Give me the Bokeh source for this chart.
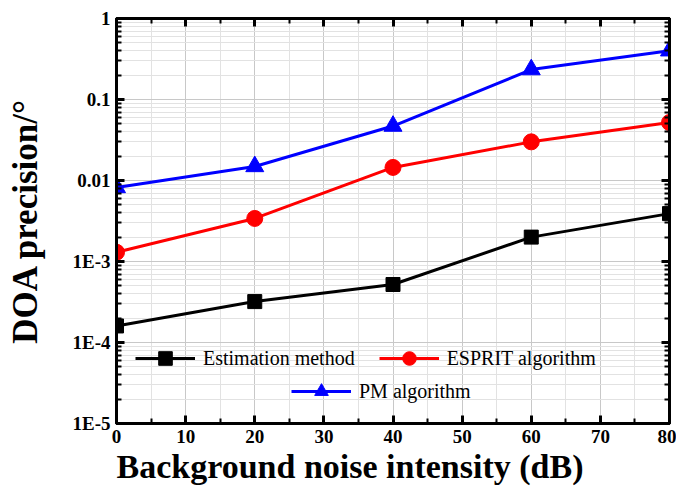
from bokeh.plotting import figure
from bokeh.models import (Range1d, FixedTicker, LinearAxis, LogAxis, Legend, LegendItem,
                          CustomJSTickFormatter, Title)
from bokeh.embed import file_html
from bokeh.resources import INLINE

noise_db = [0, 20, 40, 60, 80]
estimation = [1.6e-4, 3.2e-4, 5.2e-4, 2.0e-3, 3.9e-3]
esprit = [1.3e-3, 3.4e-3, 1.45e-2, 3.0e-2, 5.2e-2]
pm = [8.2e-3, 1.49e-2, 4.7e-2, 2.34e-1, 4.0e-1]

x_ticks = [0, 10, 20, 30, 40, 50, 60, 70, 80]
x_minor = [5, 15, 25, 35, 45, 55, 65, 75]
y_ticks = [1e-5, 1e-4, 1e-3, 1e-2, 1e-1, 1]
y_labels = ["1E-5", "1E-4", "1E-3", "0.01", "0.1", "1"]
y_minor = [k * d for d in [1e-5, 1e-4, 1e-3, 1e-2, 1e-1] for k in range(2, 10)]

SERIF = "Liberation Serif"

p = figure(width=676, height=490, y_axis_type="log",
           x_range=Range1d(0, 80), y_range=Range1d(1e-5, 1),
           output_backend="svg", toolbar_location=None,
           y_axis_label="DOA precision/°")
p.min_border_left = 116
p.min_border_right = 7
p.min_border_top = 18
p.min_border_bottom = 67

p.outline_line_color = "black"
p.outline_line_width = 3

xt = FixedTicker(ticks=x_ticks, minor_ticks=x_minor)
yt = FixedTicker(ticks=y_ticks, minor_ticks=y_minor)
p.xaxis.ticker = xt
p.yaxis.ticker = yt
p.yaxis.major_label_overrides = {t: l for t, l in zip(y_ticks, y_labels)}

for ax in [p.xaxis[0], p.yaxis[0]]:
    ax.axis_line_width = 3
    ax.axis_line_color = "black"
    ax.major_tick_in = 8
    ax.major_tick_out = 0
    ax.minor_tick_in = 5
    ax.minor_tick_out = 0
    ax.major_tick_line_width = 3
    ax.minor_tick_line_width = 2
    ax.major_label_text_font = SERIF
    ax.major_label_text_font_style = "bold"
    ax.major_label_text_font_size = "19px"
    ax.major_label_text_color = "black"
    ax.axis_label_text_font = SERIF
    ax.axis_label_text_font_style = "bold"
    ax.axis_label_text_font_size = "35px"
    ax.axis_label_text_color = "black"
p.xaxis.major_label_standoff = 6
p.yaxis.major_label_standoff = 6
p.yaxis.axis_label_standoff = 25

# x-axis title, left-aligned with the frame as in the reference
xtitle = Title(text="Background noise intensity (dB)", align="left", offset=0,
               text_font=SERIF, text_font_style="bold", text_font_size="34px",
               text_color="black", standoff=0)
p.add_layout(xtitle, "below")

blank = CustomJSTickFormatter(code="return '';")
top = LinearAxis(ticker=xt, formatter=blank)
right = LogAxis(ticker=yt, formatter=blank)
for ax in [top, right]:
    ax.axis_line_width = 3
    ax.major_tick_in = 8
    ax.major_tick_out = 0
    ax.minor_tick_in = 5
    ax.minor_tick_out = 0
    ax.major_tick_line_width = 3
    ax.minor_tick_line_width = 2
    ax.major_label_text_font_size = "2px"
    ax.major_label_standoff = 0
p.add_layout(top, "above")
p.add_layout(right, "right")

p.xgrid.grid_line_color = "#c8c8c8"
p.ygrid.grid_line_color = "#c8c8c8"
p.xgrid.grid_line_width = 1
p.ygrid.grid_line_width = 1
p.xgrid.minor_grid_line_color = "#e2e2e2"
p.ygrid.minor_grid_line_color = "#e2e2e2"

l1 = p.line(noise_db, estimation, color="black", line_width=3)
s1 = p.scatter(noise_db, estimation, marker="square", size=14, color="black")
l2 = p.line(noise_db, esprit, color="red", line_width=3)
s2 = p.scatter(noise_db, esprit, marker="circle", size=16, color="red")
l3 = p.line(noise_db, pm, color="blue", line_width=3)
s3 = p.scatter(noise_db, pm, marker="triangle", size=18, color="blue")

def make_legend(items, loc, font_px):
    lg = Legend(items=items, location=loc, orientation="horizontal")
    lg.border_line_color = None
    lg.background_fill_alpha = 0
    lg.padding = 0
    lg.margin = 0
    lg.spacing = 24
    lg.glyph_width = 60
    lg.glyph_height = 34
    lg.label_height = 34
    lg.label_standoff = 8
    lg.label_text_font = SERIF
    lg.label_text_font_size = font_px
    lg.label_text_color = "black"
    return lg

lg1 = make_legend([LegendItem(label="Estimation method", renderers=[l1, s1]),
                   LegendItem(label="ESPRIT algorithm", renderers=[l2, s2])], (19, 48), "20px")
lg2 = make_legend([LegendItem(label="PM algorithm", renderers=[l3, s3])], (175, 15), "20px")
p.add_layout(lg1, "center")
p.add_layout(lg2, "center")

open("out.html", "w").write(file_html(p, INLINE))
